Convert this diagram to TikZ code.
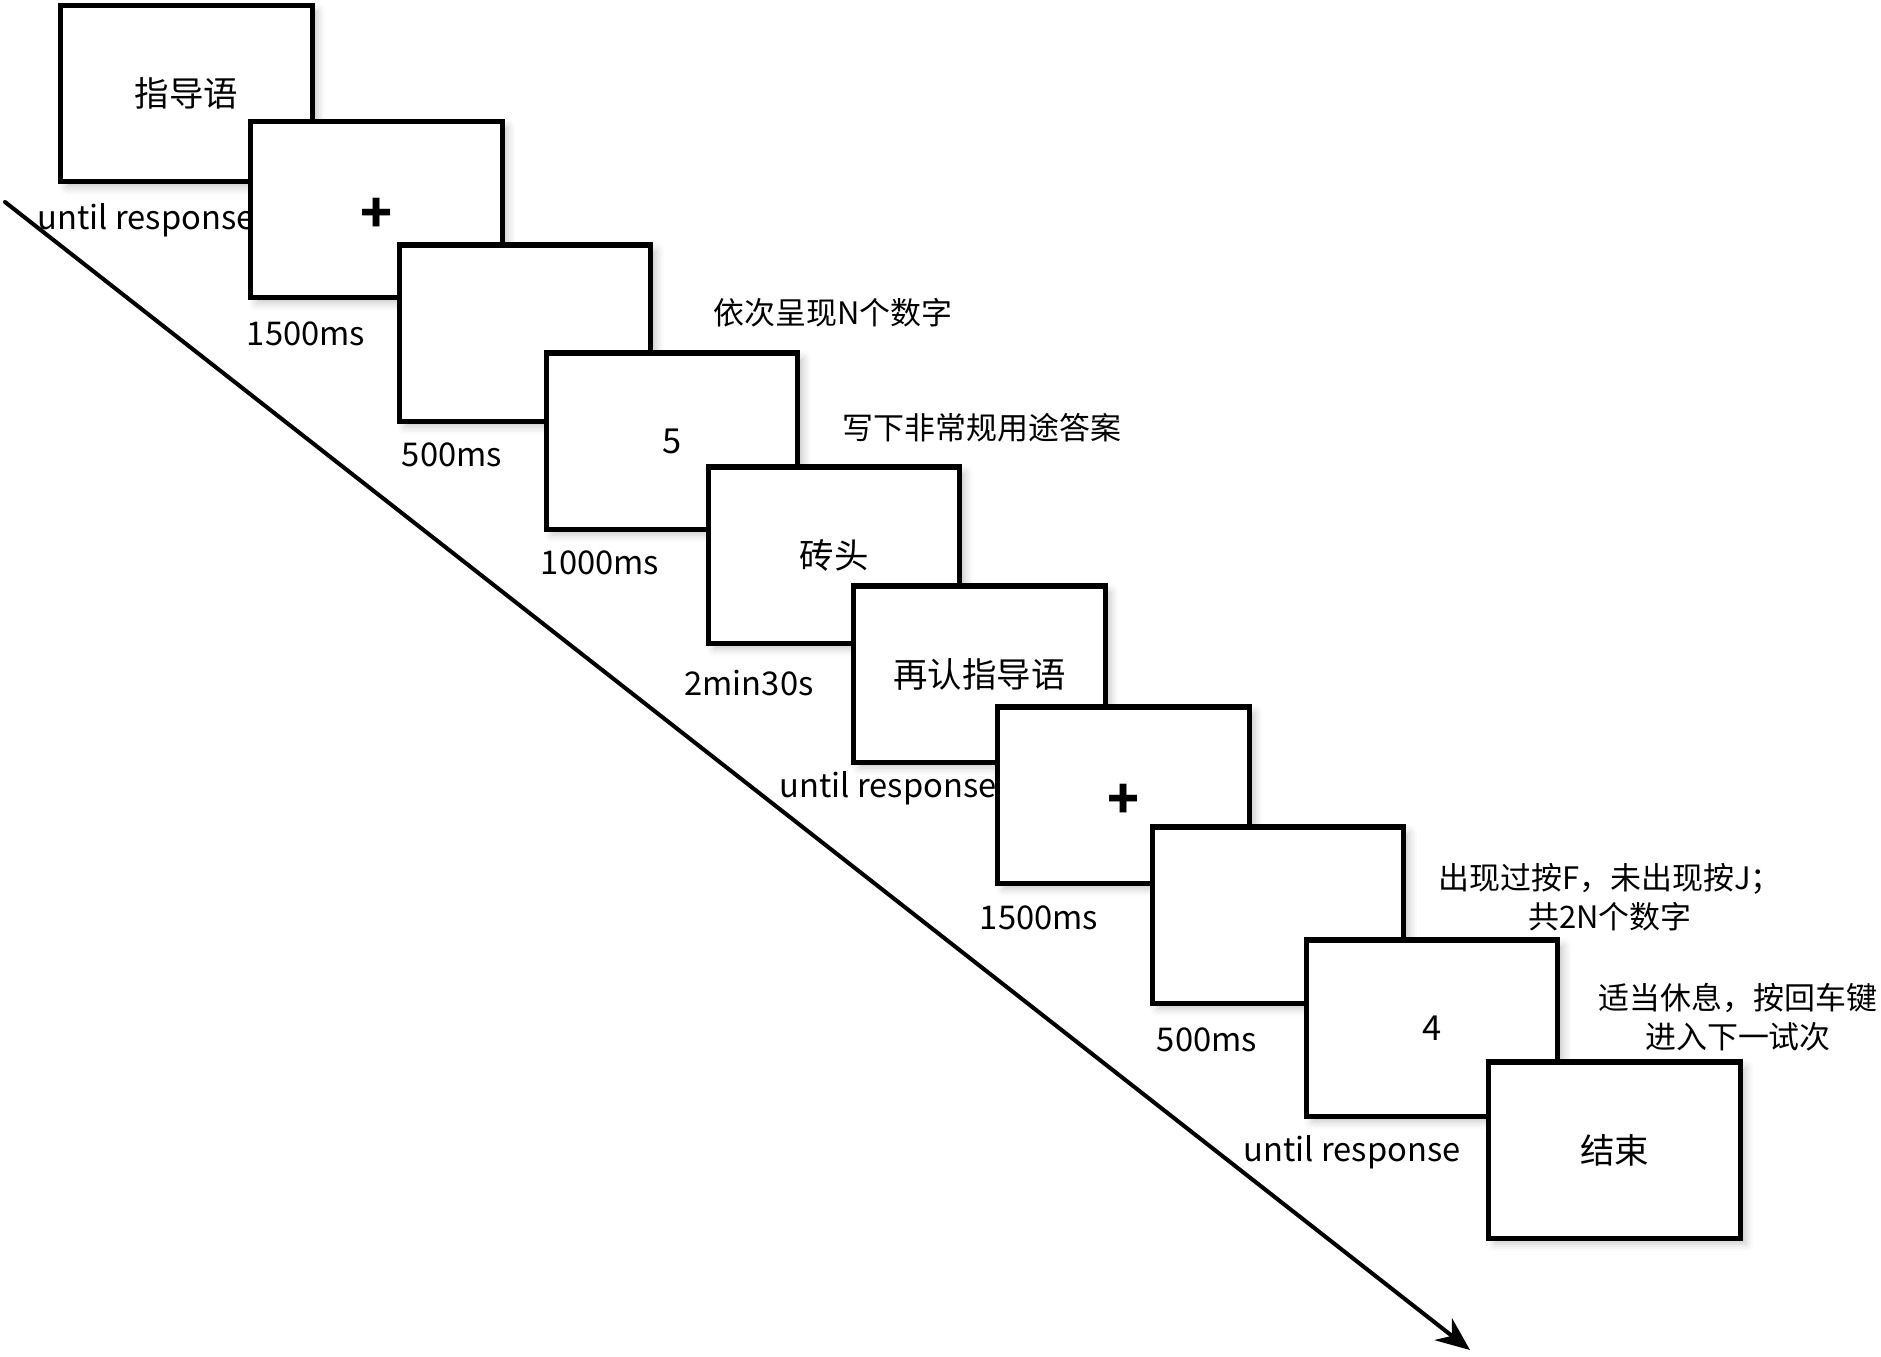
\documentclass[tikz,border=0pt]{standalone}
\usepackage{fontspec}
\setmainfont{Noto Sans CJK SC}
\usetikzlibrary{arrows.meta,shadows.blur}

\newcommand\fixcross{\raisebox{-1.8pt}[\height][\depth]{\fontsize{15}{15}\selectfont\bfseries +}}

\begin{document}
\begin{tikzpicture}[x=0.01cm,y=-0.01cm,>={Stealth[length=3.4mm,width=2.8mm]},line cap=round,
  screen/.style={draw,line width=1.45pt,fill=white,minimum width=2.51cm,minimum height=1.76cm,
    inner sep=0pt,font=\fontsize{9.8}{11}\selectfont,
    blur shadow={shadow xshift=1.6pt,shadow yshift=-1.6pt,shadow blur radius=2.2pt,shadow opacity=22}},
  dur/.style={inner sep=0pt,font=\fontsize{9.3}{12}\selectfont},
  note/.style={inner sep=0pt,align=center,font=\fontsize{8.8}{11}\selectfont}]
\useasboundingbox (0,0) rectangle (1881,1356);
% time line
\coordinate (tl-start) at (5,202);
\coordinate (tl-end) at (1470,1350);
\draw[->,line width=1.15pt] (tl-start) -- (tl-end);
% screens, each with its duration
\foreach \n/\p/\t/\q/\d in {
  s1/{(186.5,93.5)}/指导语/{(146,220)}/until response,
  s2/{(376.5,209.5)}/\fixcross/{(306,334)}/1500ms,
  s3/{(525,333)}/{}/{(452,455)}/500ms,
  s4/{(672,441)}/5/{(600,563)}/1000ms,
  s5/{(834,555)}/砖头/{(749,683)}/2min30s,
  s6/{(979.5,674)}/再认指导语/{(888,788)}/until response,
  s7/{(1123.5,795)}/\fixcross/{(1039,918)}/1500ms,
  s8/{(1278,915)}/{}/{(1207,1040)}/500ms,
  s9/{(1432,1028)}/4/{(1352,1152)}/until response}{
  \node[screen] (\n) at \p {\t};
  \node[dur] (\n-d) at \q {\d};
}
\node[screen] (s10) at (1614.5,1150) {结束};
% instructions
\node[note] (n1) at (833,313) {依次呈现N个数字};
\node[note] (n2) at (982,428) {写下非常规用途答案};
\node[note] (n3) at (1610,897) {出现过按F，未出现按J；\\共2N个数字};
\node[note] (n4) at (1738,1017) {适当休息，按回车键\\进入下一试次};
\end{tikzpicture}
\end{document}
